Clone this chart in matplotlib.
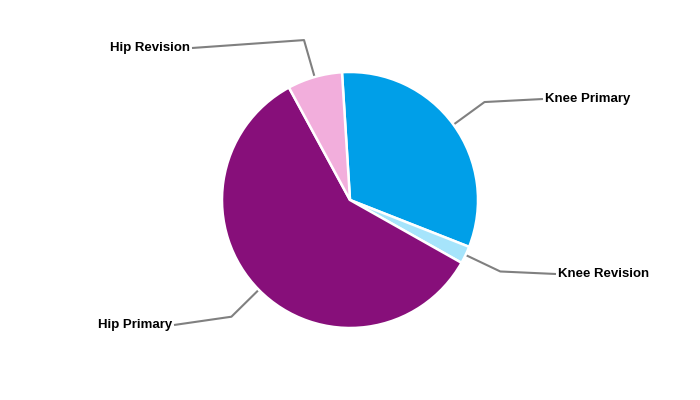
import numpy as np
import matplotlib.pyplot as plt

plt.rcParams['font.family'] = ['Liberation Sans', 'DejaVu Sans']

# Data (share of procedures, %)
labels = ['Knee Primary', 'Knee Revision', 'Hip Primary', 'Hip Revision']
values = [31.9, 2.2, 58.8, 6.9]
colors = ['#009fe8', '#a6e4fb', '#870f7a', '#f2aedc']

# label end points (pixels from centre), layout only
label_ends = [(193, 101), (206, -74), (-176, -125), (-158, 152)]

R = 128.0  # pie radius in pixels
fig = plt.figure(figsize=(7, 4), dpi=100)
ax = fig.add_axes([0, 0, 1, 1])

wedges, _ = ax.pie(values, colors=colors, startangle=93.6, counterclock=False,
                   radius=1.0, wedgeprops=dict(edgecolor='white', linewidth=1.8))

for w, lab, (ex, ey) in zip(wedges, labels, label_ends):
    mid = np.deg2rad((w.theta1 + w.theta2) / 2)
    x0, y0 = np.cos(mid), np.sin(mid)
    x1, y1 = 1.3 * x0, 1.3 * y0
    x2, y2 = ex / R, ey / R
    ax.plot([x0, x1, x2], [y0, y1, y2], color='#808080', lw=1.5,
            solid_capstyle='butt', zorder=0.5)
    if x2 > 0:
        ax.text(x2 + 2 / R, y2, lab, ha='left', va='center',
                fontsize=9.5, fontweight='bold', color='black')
    else:
        ax.text(x2 - 2 / R, y2, lab, ha='right', va='center',
                fontsize=9.5, fontweight='bold', color='black')

ax.set_xlim(-350 / R, 350 / R)
ax.set_ylim(-200 / R, 200 / R)
ax.set_aspect('equal')
ax.axis('off')

fig.savefig('out.png', dpi=100, facecolor='white')
